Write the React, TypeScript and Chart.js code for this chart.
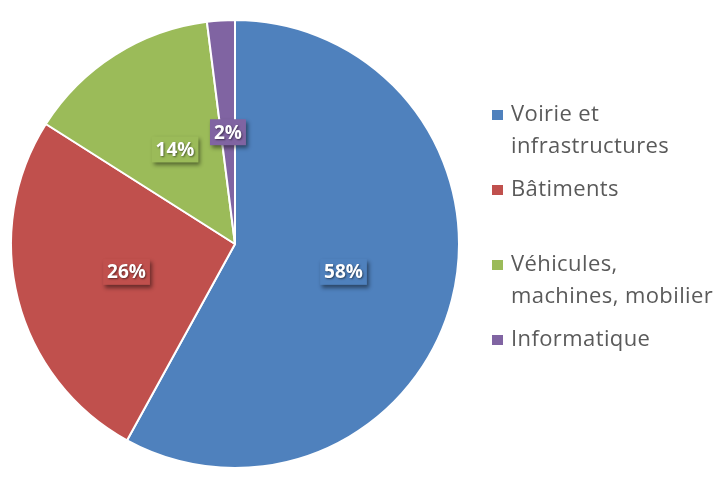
import React, { useEffect, useRef } from "react";
import { Chart, registerables } from "chart.js";

Chart.register(...registerables);

const categories = [
  "Voirie et infrastructures",
  "Bâtiments",
  "Véhicules, machines, mobilier",
  "Informatique",
];
const legendLines = [
  ["Voirie et", "infrastructures"],
  ["Bâtiments"],
  ["Véhicules,", "machines, mobilier"],
  ["Informatique"],
];
const values = [58, 26, 14, 2];
const colors = ["#4F81BD", "#C0504D", "#9BBB59", "#8064A2"];

const labelPlugin = {
  id: "sliceLabels",
  afterDatasetsDraw(chart: any) {
    const ctx = chart.ctx;
    const meta = chart.getDatasetMeta(0);
    ctx.save();
    ctx.font = "bold 19px 'Open Sans', sans-serif";
    ctx.textAlign = "center";
    ctx.textBaseline = "middle";
    meta.data.forEach((arc: any, i: number) => {
      const { x, y } = arc.tooltipPosition();
      const text = values[i] + "%";
      const w = ctx.measureText(text).width + 8;
      const h = 26;
      ctx.save();
      ctx.shadowColor = "rgba(0,0,0,0.45)";
      ctx.shadowBlur = 4;
      ctx.shadowOffsetX = 2;
      ctx.shadowOffsetY = 3;
      ctx.fillStyle = colors[i];
      ctx.fillRect(x - w / 2, y - h / 2, w, h);
      ctx.restore();
      ctx.save();
      ctx.shadowColor = "rgba(0,0,0,0.5)";
      ctx.shadowBlur = 2;
      ctx.shadowOffsetX = 1;
      ctx.shadowOffsetY = 1;
      ctx.fillStyle = "#ffffff";
      ctx.fillText(text, x, y + 1);
      ctx.restore();
    });
    ctx.restore();
  },
};

const legendPlugin = {
  id: "sideLegend",
  afterDraw(chart: any) {
    const ctx = chart.ctx;
    const itemY = [115, 190, 265, 340];
    const lineH = 32;
    const boxX = 492;
    const textX = 511;
    ctx.save();
    ctx.font = "22px 'Open Sans', sans-serif";
    (ctx as any).letterSpacing = "0.4px";
    ctx.textAlign = "left";
    ctx.textBaseline = "middle";
    legendLines.forEach((lines, i) => {
      const y0 = itemY[i];
      ctx.fillStyle = colors[i];
      ctx.fillRect(boxX, y0 - 5, 11, 10);
      ctx.fillStyle = "#5a5a5a";
      lines.forEach((t, j) => ctx.fillText(t, textX, y0 + j * lineH));
    });
    ctx.restore();
  },
};

export default function App() {
  const ref = useRef<HTMLCanvasElement | null>(null);
  useEffect(() => {
    document.body.style.margin = "0";
    const chart = new Chart(ref.current as HTMLCanvasElement, {
      type: "pie",
      data: {
        labels: categories,
        datasets: [
          {
            data: values,
            backgroundColor: colors,
            borderColor: "#ffffff",
            borderWidth: 2,
          },
        ],
      },
      options: {
        responsive: false,
        animation: false,
        layout: { padding: { left: 10, right: 260, top: 19, bottom: 16 } },
        plugins: {
          legend: { display: false },
          tooltip: { enabled: false },
        },
      },
      plugins: [labelPlugin, legendPlugin],
    });
    return () => chart.destroy();
  }, []);
  return (
    <div style={{ width: 720, height: 485, background: "#fff" }}>
      <canvas ref={ref} width={720} height={485} />
    </div>
  );
}
